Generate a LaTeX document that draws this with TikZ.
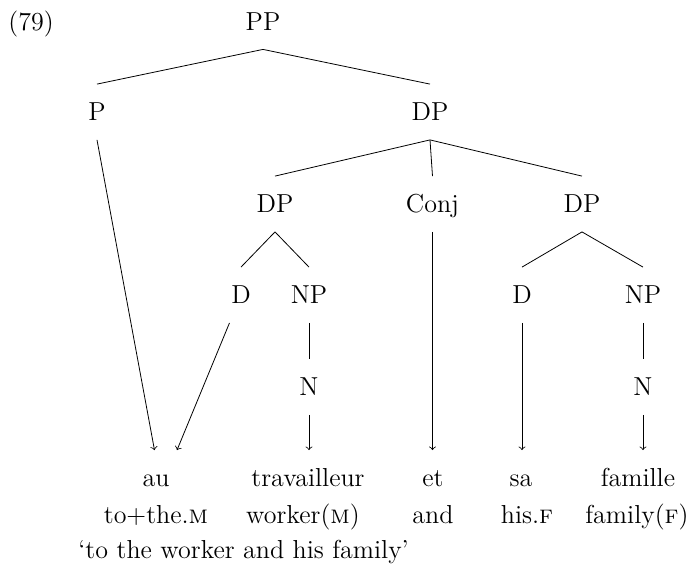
\documentclass[tikz,border=0pt]{standalone}
\usepackage{fontspec}
\usetikzlibrary{arrows}
\tikzset{
  lbl/.style={inner xsep=1pt, inner ysep=9.3pt, text height=8.9pt, text depth=0pt},
  gl/.style={inner sep=0pt, anchor=base}
}

\begin{document}
\begin{tikzpicture}[x=0.5pt,y=-0.5pt,every node/.style={font=\fontsize{13}{16}\selectfont}]
  \useasboundingbox (0,0) rectangle (697,574);
  \node[lbl,anchor=west] (ex) at (6,21.5) {(79)};
  \node[lbl] (PP) at (263,21.5) {PP};
  \node[lbl] (P) at (97,112) {P};
  \node[lbl] (DP) at (430,112) {DP};
  \node[lbl] (DPl) at (275,204) {DP};
  \node[lbl] (Conj) at (432.5,204) {Conj};
  \node[lbl] (DPr) at (582,204) {DP};
  \node[lbl] (D) at (241,295) {D};
  \node[lbl] (NP) at (309,295) {NP};
  \node[lbl] (Dr) at (522,295) {D};
  \node[lbl] (NPr) at (643,295) {NP};
  \node[lbl] (N) at (309,387) {N};
  \node[lbl] (Nr) at (643,387) {N};
  \node[lbl] (au) at (156,478) {au};
  \node[lbl] (trav) at (308,478) {travailleur};
  \node[lbl] (et) at (433,478) {et};
  \node[lbl] (sa) at (521,478) {sa};
  \node[lbl] (fam) at (638,478) {famille};
  \node[gl] (g1) at (156,523) {to+the.\textsc{m}};
  \node[gl] (g2) at (303,523) {worker(\textsc{m})};
  \node[gl] (g3) at (433,523) {and};
  \node[gl] (g4) at (527,523) {his.\textsc{f}};
  \node[gl] (g5) at (637,523) {family(\textsc{f})};
  \node[gl,anchor=base west] (tr) at (78,558) {‘to the worker and his family’};
  \coordinate (auL) at ([xshift=-0.75pt]au.north);
  \coordinate (auR) at ([xshift=10.5pt]au.north);

  \draw (PP.south) -- (P.north);
  \draw (PP.south) -- (DP.north);
  \draw (DP.south) -- (DPl.north);
  \draw (DP.south) -- (Conj.north);
  \draw (DP.south) -- (DPr.north);
  \draw (DPl.south) -- (D.north);
  \draw (DPl.south) -- (NP.north);
  \draw (DPr.south) -- (Dr.north);
  \draw (DPr.south) -- (NPr.north);
  \draw (NP.south) -- (N.north);
  \draw (NPr.south) -- (Nr.north);
  \draw[->] (P.south) -- (auL);
  \draw[->] (D) -- (auR);
  \draw[->] (N.south) -- (N.south |- trav.north);
  \draw[->] (Conj.south) -- (Conj.south |- et.north);
  \draw[->] (Dr.south) -- (Dr.south |- sa.north);
  \draw[->] (Nr.south) -- (Nr.south |- fam.north);
\end{tikzpicture}
\end{document}
